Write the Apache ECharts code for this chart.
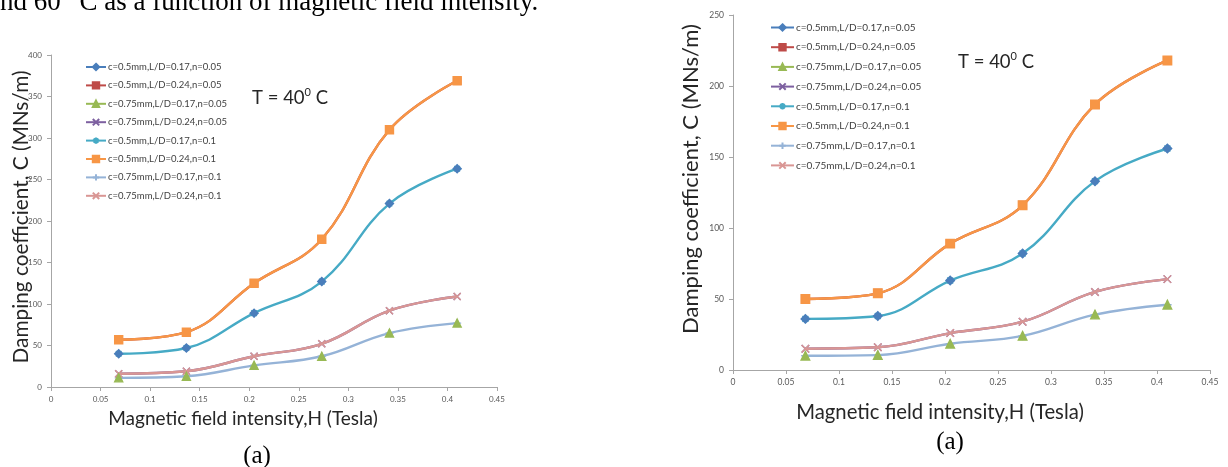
<!DOCTYPE html>
<html>
<head>
<meta charset="utf-8">
<script src="https://cdn.jsdelivr.net/npm/echarts@6/dist/echarts.min.js"></script>
<style>
html,body{margin:0;padding:0;background:#fff;}
#c{width:1228px;height:467px;}
</style>
</head>
<body>
<div id="c"></div>
<script>
// ---- data ----
const H = [0.0683, 0.1366, 0.2049, 0.2732, 0.3415, 0.4098];
const seriesNames = [
  'c=0.5mm,L/D=0.17,n=0.05',
  'c=0.5mm,L/D=0.24,n=0.05',
  'c=0.75mm,L/D=0.17,n=0.05',
  'c=0.75mm,L/D=0.24,n=0.05',
  'c=0.5mm,L/D=0.17,n=0.1',
  'c=0.5mm,L/D=0.24,n=0.1',
  'c=0.75mm,L/D=0.17,n=0.1',
  'c=0.75mm,L/D=0.24,n=0.1'
];
// left panel (a)
const left_c05_LD017_n005  = [40, 47, 89, 127, 221, 263];
const left_c05_LD024_n005  = [57, 66, 125, 178, 310, 369];
const left_c075_LD017_n005 = [11, 13, 26, 37, 65, 77];
const left_c075_LD024_n005 = [16, 19, 37, 52, 92, 109];
const left_c05_LD017_n01   = [40, 47, 89, 127, 221, 263];
const left_c05_LD024_n01   = [57, 66, 125, 178, 310, 369];
const left_c075_LD017_n01  = [11, 13, 26, 37, 65, 77];
const left_c075_LD024_n01  = [16, 19, 37, 52, 92, 109];
// right panel (a)
const right_c05_LD017_n005  = [36, 38, 63, 82, 133, 156];
const right_c05_LD024_n005  = [50, 54, 89, 116, 187, 218];
const right_c075_LD017_n005 = [10, 10.5, 18.5, 24, 39, 46];
const right_c075_LD024_n005 = [15, 16, 26, 34, 55, 64];
const right_c05_LD017_n01   = [36, 38, 63, 82, 133, 156];
const right_c05_LD024_n01   = [50, 54, 89, 116, 187, 218];
const right_c075_LD017_n01  = [10, 10.5, 18.5, 24, 39, 46];
const right_c075_LD024_n01  = [15, 16, 26, 34, 55, 64];

const xTicks = [0, 0.05, 0.1, 0.15, 0.2, 0.25, 0.3, 0.35, 0.4, 0.45];
const leftYMax = 400, rightYMax = 250, yStep = 50;

const xTitle = 'Magnetic field intensity,H (Tesla)';
const yTitle = 'Damping coefficient, C (MNs/m)';
const panelLabel = '(a)';
const captionA = 'nd 60', captionSup = '0', captionB = 'C as a function of magnetic field intensity.';

// ---- styles ----
const colors = ['#4A7EBB', '#BE4B48', '#98B954', '#7D60A0', '#46AAC5', '#F79646', '#95B3D7', '#D99694'];
const SYM_X = 'path://M0,0L10,10M10,0L0,10';
const SYM_AST = 'path://M5,0L5,10M0,5L10,5M1.5,1.5L8.5,8.5M8.5,1.5L1.5,8.5';
const SYM_PLUS = 'path://M5,0L5,10M0,5L10,5';
const sty = [
  {sym: 'diamond', size: 8, z: 4, line: false},
  {sym: 'rect', size: 7, z: 2, line: true},
  {sym: 'triangle', size: 8, z: 4, line: false},
  {sym: SYM_X, size: 7, z: 2, line: true},
  {sym: SYM_AST, size: 8, z: 2, line: true},
  {sym: 'rect', size: 8, z: 3, line: true},
  {sym: SYM_PLUS, size: 8, z: 2, line: true},
  {sym: SYM_X, size: 7, z: 3, line: true}
];
const FONT = 'Lato, "Open Sans", sans-serif';

const leftSets = [left_c05_LD017_n005, left_c05_LD024_n005, left_c075_LD017_n005, left_c075_LD024_n005,
  left_c05_LD017_n01, left_c05_LD024_n01, left_c075_LD017_n01, left_c075_LD024_n01];
const rightSets = [right_c05_LD017_n005, right_c05_LD024_n005, right_c075_LD017_n005, right_c075_LD024_n005,
  right_c05_LD017_n01, right_c05_LD024_n01, right_c075_LD017_n01, right_c075_LD024_n01];

function buildSeries(sets, gi) {
  return sets.map((vals, i) => ({
    type: 'line',
    name: seriesNames[i],
    xAxisIndex: gi, yAxisIndex: gi,
    data: vals.map((v, k) => [H[k], v]),
    smooth: 0.4,
    z: sty[i].z,
    symbol: sty[i].sym,
    symbolSize: sty[i].size + (gi === 1 ? 0.5 : 0),
    showSymbol: true,
    lineStyle: {color: colors[i], width: 2.4, opacity: sty[i].line ? 1 : 0},
    itemStyle: {color: colors[i], borderColor: colors[i], borderWidth: 1.4},
    emphasis: {disabled: true}
  }));
}

function xAxisCfg(gi, fs) {
  return {
    gridIndex: gi, type: 'value', min: 0, max: 0.45, interval: 0.05,
    axisLine: {show: true, lineStyle: {color: '#A6A6A6', width: 1}},
    axisTick: {show: true, length: 4, lineStyle: {color: '#A6A6A6'}},
    axisLabel: {fontSize: fs, color: '#595959', fontFamily: FONT, margin: 8,
      formatter: v => String(+v.toFixed(2))},
    splitLine: {show: false}
  };
}
function yAxisCfg(gi, max, fs) {
  return {
    gridIndex: gi, type: 'value', min: 0, max: max, interval: yStep,
    axisLine: {show: true, lineStyle: {color: '#A6A6A6', width: 1}},
    axisTick: {show: true, length: 4, lineStyle: {color: '#A6A6A6'}},
    axisLabel: {fontSize: fs, color: '#595959', fontFamily: FONT, margin: 9},
    splitLine: {show: false}
  };
}
function legendCfg(left, top, iw, gap, fs) {
  return {
    orient: 'vertical', left: left, top: top, padding: 0,
    itemWidth: iw, itemHeight: 8, itemGap: gap,
    selectedMode: false,
    data: seriesNames,
    lineStyle: {opacity: 1},
    textStyle: {fontSize: fs, color: '#404040', fontFamily: FONT, lineHeight: 11, padding: [0, 0, 0, -3]}
  };
}

const CAP_FONT = '27px "Liberation Serif"';
const meas = document.createElement('canvas').getContext('2d');
meas.font = CAP_FONT;
const wA = meas.measureText(captionA + ' ').width;

function tText(x, y, size, supSize) {
  return {
    type: 'text', x: x, y: y,
    style: {
      text: '{a|T = 40}{s|0}{a| C}',
      align: 'left', verticalAlign: 'middle',
      rich: {
        a: {fontSize: size, fontFamily: FONT, fill: '#262626', verticalAlign: 'bottom', lineHeight: size + 2},
        s: {fontSize: supSize, fontFamily: FONT, fill: '#262626', verticalAlign: 'top', lineHeight: supSize + 2}
      }
    }
  };
}

const option = {
  animation: false,
  backgroundColor: '#ffffff',
  grid: [
    {left: 51, top: 55, width: 446, height: 332},
    {left: 733, top: 15, width: 477, height: 355}
  ],
  xAxis: [xAxisCfg(0, 8), xAxisCfg(1, 8.5)],
  yAxis: [yAxisCfg(0, leftYMax, 8), yAxisCfg(1, rightYMax, 8.5)],
  legend: [legendCfg(85, 61.5, 20, 7.4, 9.5), legendCfg(770, 22, 23, 8.7, 10)],
  series: buildSeries(leftSets, 0).concat(buildSeries(rightSets, 1)),
  graphic: [
    {type: 'text', x: 0, y: 3, style: {text: captionA, font: CAP_FONT, fill: '#000', align: 'left', verticalAlign: 'middle'}},
    {type: 'text', x: wA - 6, y: -8, style: {text: captionSup, font: '16px "Liberation Serif"', fill: '#000', align: 'left', verticalAlign: 'middle'}},
    {type: 'text', x: wA + 12, y: 3, style: {text: captionB, font: CAP_FONT, fill: '#000', align: 'left', verticalAlign: 'middle'}},
    {type: 'text', x: 21, y: 217, rotation: Math.PI / 2, style: {text: yTitle, font: '20.8px Lato', fill: '#262626', align: 'center', verticalAlign: 'middle'}},
    {type: 'text', x: 691, y: 179, rotation: Math.PI / 2, style: {text: yTitle, font: '22px Lato', fill: '#262626', align: 'center', verticalAlign: 'middle'}},
    {type: 'text', x: 243, y: 419, style: {text: xTitle, font: '19px Lato', fill: '#262626', align: 'center', verticalAlign: 'middle'}},
    {type: 'text', x: 940, y: 412, style: {text: xTitle, font: '20.3px Lato', fill: '#262626', align: 'center', verticalAlign: 'middle'}},
    {type: 'text', x: 257, y: 456, style: {text: panelLabel, font: '25px "Liberation Serif"', fill: '#000', align: 'center', verticalAlign: 'middle'}},
    {type: 'text', x: 950, y: 442, style: {text: panelLabel, font: '25px "Liberation Serif"', fill: '#000', align: 'center', verticalAlign: 'middle'}},
    tText(252, 97, 18.5, 11),
    tText(958, 61, 18.5, 11)
  ]
};

const chart = echarts.init(document.getElementById('c'), null, {renderer: 'canvas'});
chart.setOption(option);
</script>
</body>
</html>
